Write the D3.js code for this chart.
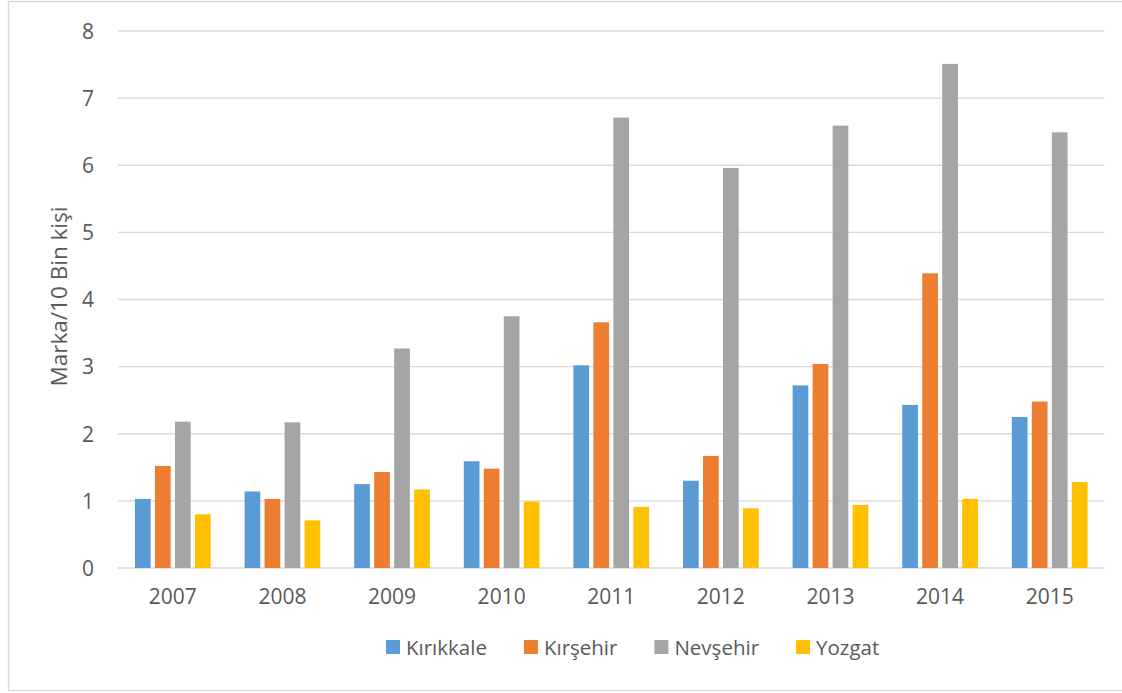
<!DOCTYPE html>
<html>
<head>
<meta charset="utf-8">
<script src="https://cdn.jsdelivr.net/npm/d3@7"></script>
<style>
  html, body { margin: 0; padding: 0; background: #fff; }
  svg { display: block; }
  text { font-family: "Open Sans", "Noto Sans", sans-serif; fill: #595959; }
</style>
</head>
<body>
<svg id="chart" width="1122" height="693"></svg>
<script>
const years = ["2007","2008","2009","2010","2011","2012","2013","2014","2015"];
const seriesNames = ["Kırıkkale","Kırşehir","Nevşehir","Yozgat"];
const kirikkale = [1.03,1.14,1.25,1.59,3.02,1.30,2.72,2.43,2.25];
const kirsehir  = [1.52,1.03,1.43,1.48,3.66,1.67,3.04,4.39,2.48];
const nevsehir  = [2.18,2.17,3.27,3.75,6.71,5.96,6.59,7.51,6.49];
const yozgat    = [0.80,0.71,1.17,0.99,0.91,0.89,0.94,1.03,1.28];
const yTicks = [0,1,2,3,4,5,6,7,8];
const colors = ["#5b9bd5","#ed7d31","#a5a5a5","#ffc000"];
const axisTitle = "Marka/10 Bin kişi";

const seriesValues = [kirikkale, kirsehir, nevsehir, yozgat];
const table = years.map((y, i) => ({year: y, values: seriesNames.map((s, j) => ({name: s, value: seriesValues[j][i]}))}));

const svg = d3.select("#chart");
const mLeft = 118, mRight = 1104.5, mTop = 31, mBottom = 568;

// chart border
svg.append("rect").attr("x", 8.5).attr("y", 1.5).attr("width", 1125).attr("height", 689)
  .attr("fill", "none").attr("stroke", "#d9d9d9").attr("stroke-width", 1.3);

const x0 = d3.scaleBand().domain(years).range([mLeft, mRight]).padding(0);
const groupW = 75.7;
const x1 = d3.scaleBand().domain(seriesNames)
  .range([x0.bandwidth()/2 - groupW/2, x0.bandwidth()/2 + groupW/2])
  .paddingInner(0.215).paddingOuter(0);
const y = d3.scaleLinear().domain([0, 8]).range([mBottom, mTop]);
const color = d3.scaleOrdinal().domain(seriesNames).range(colors);

// gridlines
svg.append("g").selectAll("line").data(yTicks).join("line")
  .attr("x1", mLeft).attr("x2", mRight)
  .attr("y1", d => y(d)).attr("y2", d => y(d))
  .attr("stroke", "#d9d9d9").attr("stroke-width", 1.3);

// y axis
const yAxis = svg.append("g").attr("transform", `translate(${mLeft},0)`)
  .call(d3.axisLeft(y).tickValues(yTicks).tickSize(0).tickPadding(24).tickFormat(d3.format("d")));
yAxis.select(".domain").remove();
yAxis.selectAll("text").style("font-size", "21px").attr("fill", "#595959").attr("dy", "0.35em");

// x axis
const xAxis = svg.append("g").attr("transform", `translate(0,${mBottom})`)
  .call(d3.axisBottom(x0).tickSize(0).tickPadding(21));
xAxis.select(".domain").remove();
xAxis.selectAll("text").style("font-size", "21px").attr("fill", "#595959");

// bars
svg.append("g").selectAll("g").data(table).join("g")
  .attr("transform", d => `translate(${x0(d.year)},0)`)
  .selectAll("rect").data(d => d.values).join("rect")
  .attr("x", d => x1(d.name))
  .attr("width", x1.bandwidth())
  .attr("y", d => y(d.value))
  .attr("height", d => y(0) - y(d.value))
  .attr("fill", d => color(d.name));

// y axis title
svg.append("text")
  .attr("transform", `translate(67,${(mTop + mBottom)/2 - 3}) rotate(-90)`)
  .attr("text-anchor", "middle")
  .style("font-size", "22.5px")
  .text(axisTitle);

// legend
const legend = svg.append("g").attr("transform", "translate(386,0)");
let cx = 0;
seriesNames.forEach((s, i) => {
  const g = legend.append("g").attr("transform", `translate(${cx},0)`);
  g.append("rect").attr("x", 0).attr("y", 640).attr("width", 14).attr("height", 14).attr("fill", color(s));
  const t = g.append("text").attr("x", 20).attr("y", 655).style("font-size", "20.5px").text(s);
  cx += 20 + t.node().getComputedTextLength() + 37;
});
</script>
</body>
</html>
